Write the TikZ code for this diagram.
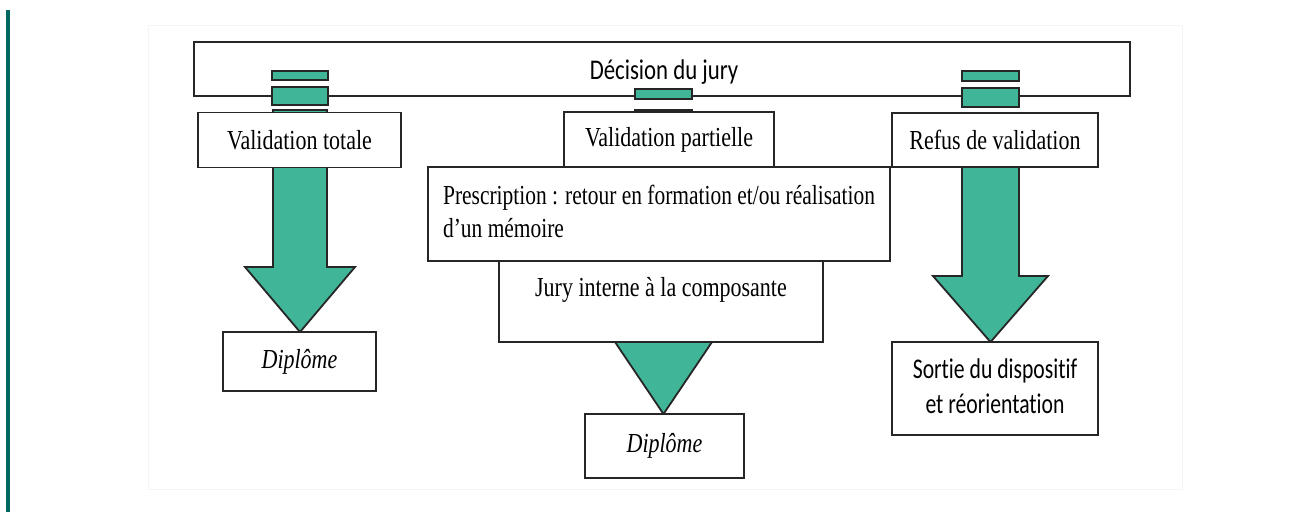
\documentclass[tikz,border=0pt]{standalone}
\usepackage{fontspec}
\usepackage{graphicx}
\setmainfont{Liberation Serif}
\newfontfamily\calib[Ligatures=NoCommon]{Carlito}
\usepackage{tikz}
\usetikzlibrary{calc, backgrounds}

\definecolor{tealgreen}{RGB}{64,181,152}
\definecolor{edgeteal}{RGB}{0,104,96}
\newcommand{\sq}[1]{\scalebox{0.8}[1]{#1}}
\newcommand{\serifsz}{\fontsize{27.5}{33}\selectfont}
\newcommand{\sanssz}{\calib\fontsize{28.5}{35}\selectfont}
% block arrow: from, to, half shaft, half head, head length
\newcommand{\blockarrow}[5]{%
  \draw[garrow] let \p1=(#1), \p2=(#2) in
    (\x1-#3,\y1) -- (\x1-#3,\y2+#5) -- (\x1-#4,\y2+#5) -- (\x1,\y2)
    -- (\x1+#4,\y2+#5) -- (\x1+#3,\y2+#5) -- (\x1+#3,\y1) -- cycle;}

\tikzset{
  box/.style={draw=black!85, line width=1.8pt, fill=white, inner sep=0pt, outer sep=0pt, font=\serifsz},
  bar/.style={draw=black!85, line width=1.6pt, fill=tealgreen, inner sep=0pt, outer sep=0pt},
  garrow/.style={draw=black!85, line width=1.8pt, fill=tealgreen, line join=miter},
  sanslabel/.style={inner sep=0pt, font=\sanssz},
}

\begin{document}
\begin{tikzpicture}[x=1pt, y=-1pt]
\useasboundingbox (0,0) rectangle (1299,515);
\fill[edgeteal] (6,10) rectangle (10,512);
\draw[black!4] (148,25) rectangle (1182,489);

% decision bar and small links
\node[box, minimum width=936pt, minimum height=54pt] (jury) at (662,69) {};
\node[sanslabel] (decis) at (664,72) {\sq{Décision du jury}};
\node[bar, minimum width=56pt, minimum height=9pt] (c1a) at (300,75.5) {};
\node[bar, minimum width=56pt, minimum height=18pt] (c1b) at (300,96) {};
\node[bar, minimum width=57pt, minimum height=10pt] (c2b) at (663.5,94) {};
\node[bar, minimum width=57pt, minimum height=10pt] (c3a) at (990.5,76) {};
\node[bar, minimum width=57pt, minimum height=19pt] (c3b) at (990.5,97.5) {};

% outcomes
\node[box, minimum width=203pt, minimum height=55pt] (vtot) at (299.5,140) {\sq{Validation totale}};
\node[box, minimum width=210pt, minimum height=55pt] (vpart) at (669,139.5) {\sq{Validation partielle}};
\node[box, minimum width=206pt, minimum height=54pt] (refus) at (995,140) {\sq{Refus de validation}};
\node[box, minimum width=462pt, minimum height=94pt] (presc) at (659,214)
  {\scalebox{0.78}[1]{\begin{tabular}{@{}l@{}}Prescription : retour en formation et/ou réalisation\\d’un mémoire\end{tabular}}};
\node[box, minimum width=324pt, minimum height=81pt] (jint) at (661,301.5) {};
\node[inner sep=0pt, font=\serifsz] (jintl) at (661,290) {\sq{Jury interne à la composante}};
\node[box, minimum width=153pt, minimum height=59pt] (dip1) at (299.5,361.5) {\sq{\itshape Diplôme}};
\node[box, minimum width=159pt, minimum height=64pt] (dip2) at (664.5,446) {\sq{\itshape Diplôme}};
\node[box, minimum width=206pt, minimum height=93pt, font=\sanssz] (sortie) at (995,388.5)
  {\scalebox{0.76}[1]{\begin{tabular}{@{}c@{}}Sortie du dispositif\\et réorientation\end{tabular}}};

% big arrows behind the boxes
\coordinate (s1) at (300,110);
\coordinate (s2) at (663.5,110);
\coordinate (s3) at (990.5,150);
\begin{pgfonlayer}{background}
\blockarrow{s1}{dip1.north}{27pt}{55pt}{65pt}
\blockarrow{s2}{dip2.north}{28.5pt}{48.5pt}{72pt}
\blockarrow{s3}{sortie.north}{28.5pt}{57.5pt}{66pt}
\end{pgfonlayer}
\end{tikzpicture}
\end{document}
